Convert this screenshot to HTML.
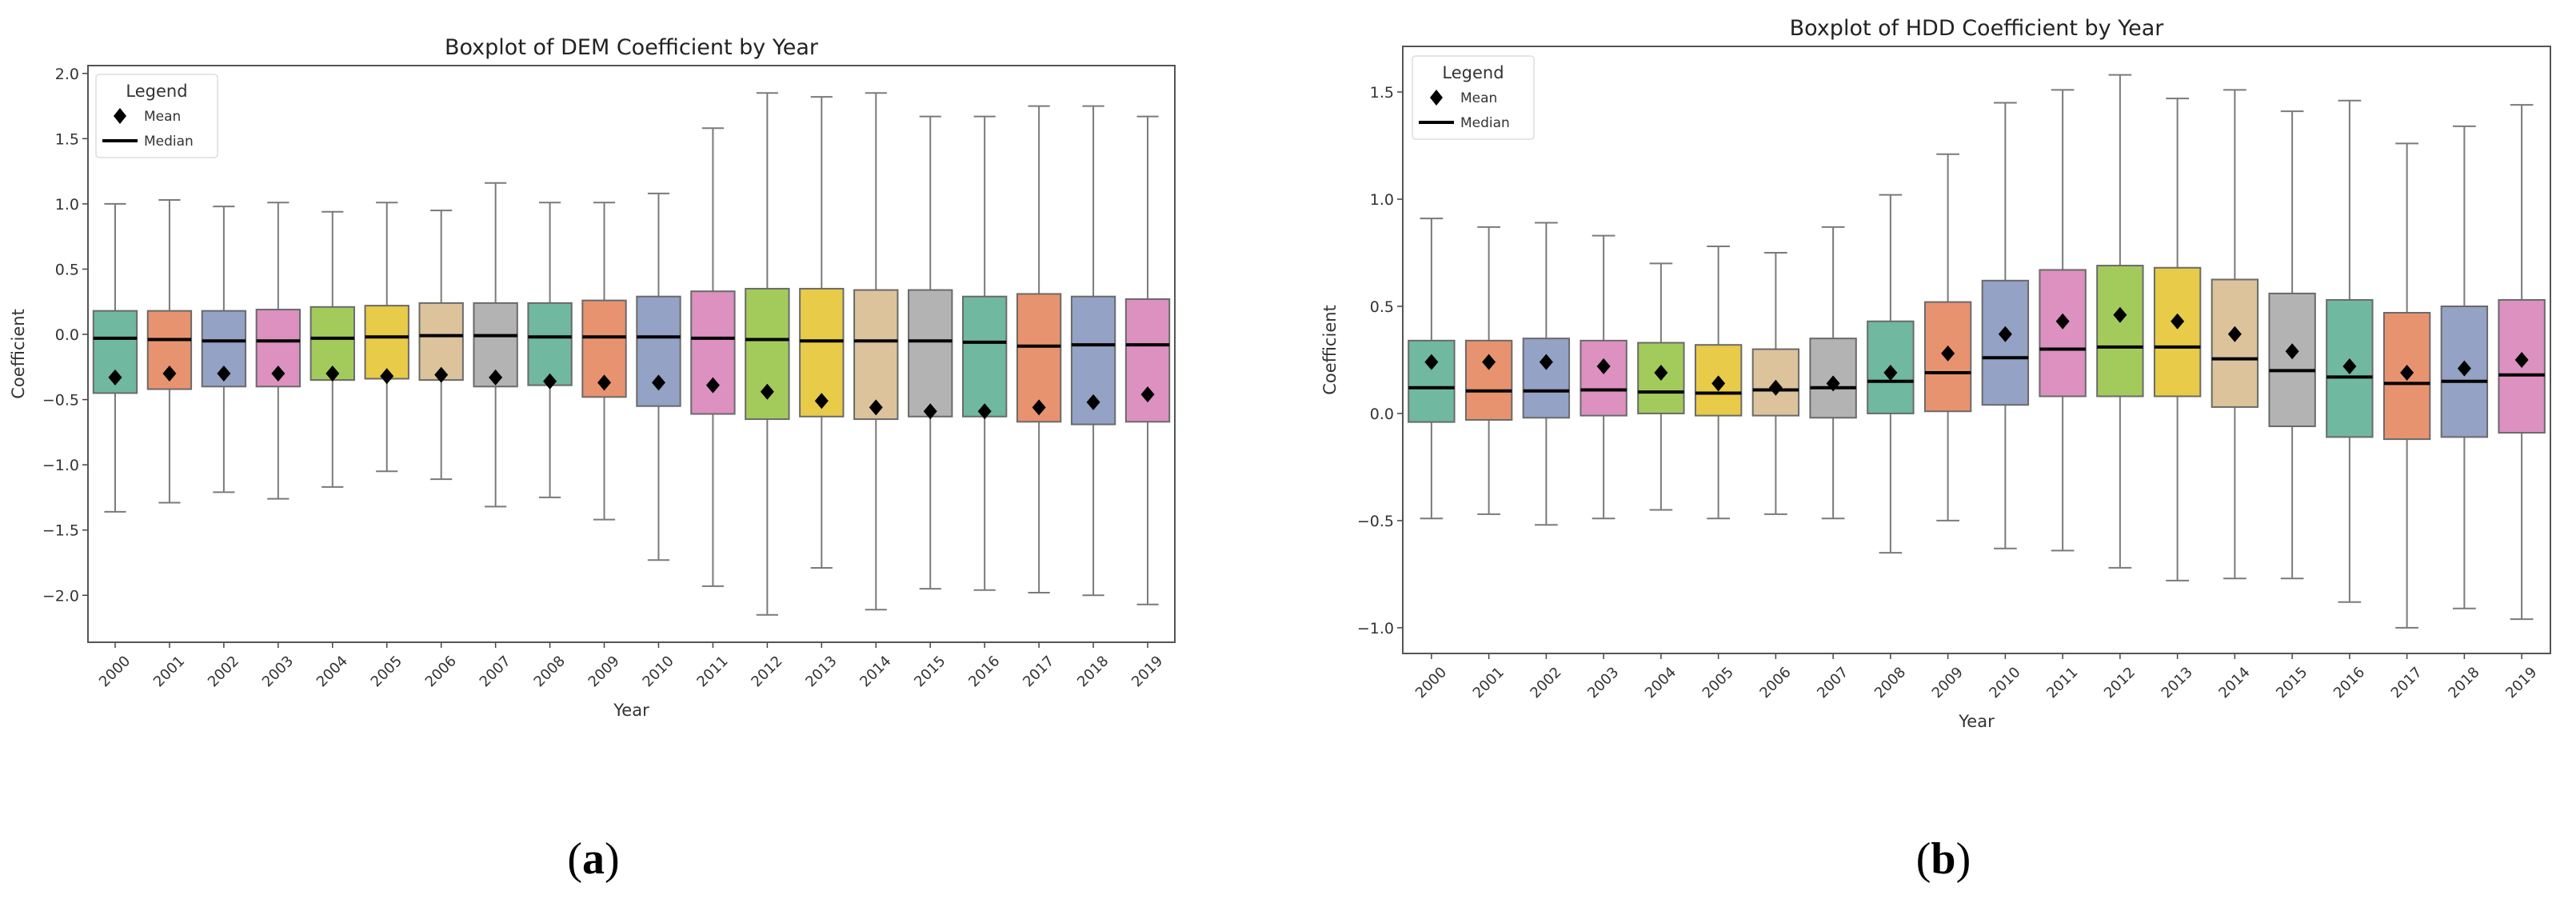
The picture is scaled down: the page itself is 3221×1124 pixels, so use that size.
<!DOCTYPE html>
<html><head><meta charset="utf-8">
<style>
html,body{margin:0;padding:0;background:#fff;}
svg{display:block;font-family:"DejaVu Sans","Liberation Sans",sans-serif;}
</style></head>
<body>
<svg id="fig" width="3221" height="1124" viewBox="0 0 3221 1124" xmlns="http://www.w3.org/2000/svg">
<rect width="3221" height="1124" fill="#fff"/>
<g id="chartA"></g>
<g id="chartB"></g>
<text x="742" y="1092" font-family="Liberation Serif, serif" font-size="56" text-anchor="middle">(<tspan font-weight="bold">a</tspan>)</text>
<text x="2430" y="1092" font-family="Liberation Serif, serif" font-size="56" text-anchor="middle">(<tspan font-weight="bold">b</tspan>)</text>
</svg>
<script>
const years = ["2000","2001","2002","2003","2004","2005","2006","2007","2008","2009","2010","2011","2012","2013","2014","2015","2016","2017","2018","2019"];
const colors = ["#70b8a0","#e8936f","#93a2c5","#dc91c0","#a3cb5c","#e8cb48","#dcc39b","#b3b3b3"];
// DEM coefficient
const demHigh = [1.00,1.03,0.98,1.01,0.94,1.01,0.95,1.16,1.01,1.01,1.08,1.58,1.85,1.82,1.85,1.67,1.67,1.75,1.75,1.67];
const demQ3 = [0.18,0.18,0.18,0.19,0.21,0.22,0.24,0.24,0.24,0.26,0.29,0.33,0.35,0.35,0.34,0.34,0.29,0.31,0.29,0.27];
const demMedian = [-0.03,-0.04,-0.05,-0.05,-0.03,-0.02,-0.01,-0.01,-0.02,-0.02,-0.02,-0.03,-0.04,-0.05,-0.05,-0.05,-0.06,-0.09,-0.08,-0.08];
const demMean = [-0.33,-0.30,-0.30,-0.30,-0.30,-0.32,-0.31,-0.33,-0.36,-0.37,-0.37,-0.39,-0.44,-0.51,-0.56,-0.59,-0.59,-0.56,-0.52,-0.46];
const demQ1 = [-0.45,-0.42,-0.40,-0.40,-0.35,-0.34,-0.35,-0.40,-0.39,-0.48,-0.55,-0.61,-0.65,-0.63,-0.65,-0.63,-0.63,-0.67,-0.69,-0.67];
const demLow = [-1.36,-1.29,-1.21,-1.26,-1.17,-1.05,-1.11,-1.32,-1.25,-1.42,-1.73,-1.93,-2.15,-1.79,-2.11,-1.95,-1.96,-1.98,-2.00,-2.07];
const demTicks = [-2.0,-1.5,-1.0,-0.5,0.0,0.5,1.0,1.5,2.0];
// HDD coefficient
const hddHigh = [0.91,0.87,0.89,0.83,0.70,0.78,0.75,0.87,1.02,1.21,1.45,1.51,1.58,1.47,1.51,1.41,1.46,1.26,1.34,1.44];
const hddQ3 = [0.34,0.34,0.35,0.34,0.33,0.32,0.30,0.35,0.43,0.52,0.62,0.67,0.69,0.68,0.625,0.56,0.53,0.47,0.50,0.53];
const hddMedian = [0.12,0.105,0.105,0.11,0.10,0.095,0.11,0.12,0.15,0.19,0.26,0.30,0.31,0.31,0.255,0.20,0.17,0.14,0.15,0.18];
const hddMean = [0.24,0.24,0.24,0.22,0.19,0.14,0.12,0.14,0.19,0.28,0.37,0.43,0.46,0.43,0.37,0.29,0.22,0.19,0.21,0.25];
const hddQ1 = [-0.04,-0.03,-0.02,-0.01,0.00,-0.01,-0.01,-0.02,0.00,0.01,0.04,0.08,0.08,0.08,0.03,-0.06,-0.11,-0.12,-0.11,-0.09];
const hddLow = [-0.49,-0.47,-0.52,-0.49,-0.45,-0.49,-0.47,-0.49,-0.65,-0.50,-0.63,-0.64,-0.72,-0.78,-0.77,-0.77,-0.88,-1.00,-0.91,-0.96];
const hddTicks = [-1.0,-0.5,0.0,0.5,1.0,1.5];

const NS = "http://www.w3.org/2000/svg";
function mk(parent, tag, attrs){
  const e = document.createElementNS(NS, tag);
  for (const k in attrs) e.setAttribute(k, attrs[k]);
  parent.appendChild(e);
  return e;
}

function drawChart(g, cfg){
  const L=cfg.left, R=cfg.right, T=cfg.top, B=cfg.bottom;
  const step = (R - L) / years.length;
  const xScale = i => L + step * (i + 0.5);
  const yScale = v => B - (v - cfg.ymin) / (cfg.ymax - cfg.ymin) * (B - T);
  const bw = step * 0.8, cw = bw * 0.5;

  const title = mk(g,'text',{x:(L+R)/2, y:T-14, 'font-size':27, 'text-anchor':'middle', fill:'#222'});
  title.textContent = cfg.title;
  
  

  cfg.ticks.forEach(t=>{
    const y = yScale(t);
    const tk = mk(g,'line',{x1:L-7,x2:L,y1:y,y2:y,stroke:'#444','stroke-width':1.5});
    
    
    const lb = mk(g,'text',{x:L-11,y:y+7,'font-size':19,'text-anchor':'end',fill:'#333'});
    lb.textContent = (t<0?'\u2212':'') + Math.abs(t).toFixed(1);
    
    
  });

  years.forEach((yr,i)=>{
    const x = xScale(i);
    const bg = mk(g,'g',{});
    
    
    const wc = '#7a7a7a';
    mk(bg,'line',{x1:x,x2:x,y1:yScale(cfg.high[i]),y2:yScale(cfg.q3[i]),stroke:wc,'stroke-width':2});
    mk(bg,'line',{x1:x,x2:x,y1:yScale(cfg.q1[i]),y2:yScale(cfg.low[i]),stroke:wc,'stroke-width':2});
    mk(bg,'line',{x1:x-cw/2,x2:x+cw/2,y1:yScale(cfg.high[i]),y2:yScale(cfg.high[i]),stroke:wc,'stroke-width':2});
    mk(bg,'line',{x1:x-cw/2,x2:x+cw/2,y1:yScale(cfg.low[i]),y2:yScale(cfg.low[i]),stroke:wc,'stroke-width':2});
    mk(bg,'rect',{x:x-bw/2,y:yScale(cfg.q3[i]),width:bw,height:yScale(cfg.q1[i])-yScale(cfg.q3[i]),fill:colors[i%colors.length],stroke:'#6a6a6a','stroke-width':2});
    const med = mk(bg,'line',{x1:x-bw/2,x2:x+bw/2,y1:yScale(cfg.median[i]),y2:yScale(cfg.median[i]),stroke:'#000','stroke-width':4});
    
    
    const my = yScale(cfg.mean[i]), d=10;
    const dm = mk(bg,'polygon',{points:`${x},${my-d} ${x+d*0.85},${my} ${x},${my+d} ${x-d*0.85},${my}`,fill:'#000'});
    
    
    const tk = mk(g,'line',{x1:x,x2:x,y1:B,y2:B+7,stroke:'#444','stroke-width':1.5});
    
    
    const ly = B+37;
    const lb = mk(g,'text',{x:x,y:ly,'font-size':18,'text-anchor':'middle','dominant-baseline':'middle',fill:'#333',transform:`rotate(-45 ${x} ${ly})`});
    lb.textContent = yr;
    
    
  });

  const frame = mk(g,'rect',{x:L,y:T,width:R-L,height:B-T,fill:'none',stroke:'#555','stroke-width':2});
  
  

  const xl = mk(g,'text',{x:(L+R)/2,y:B+92,'font-size':21,'text-anchor':'middle',fill:'#333'});
  xl.textContent = 'Year';
  
  
  const yc = (T+B)/2;
  const yl = mk(g,'text',{x:cfg.ylabX,y:yc,'font-size':21,'text-anchor':'middle',fill:'#333',transform:`rotate(-90 ${cfg.ylabX} ${yc})`});
  yl.textContent = 'Coefficient';
  
  

  const lg = mk(g,'g',{});
  
  
  const lx=cfg.legX, ly0=cfg.legY;
  mk(lg,'rect',{x:lx,y:ly0,width:152,height:104,rx:4,fill:'#fff',stroke:'#ddd','stroke-width':1.5});
  const lt = mk(lg,'text',{x:lx+76,y:ly0+28,'font-size':21,'text-anchor':'middle',fill:'#333'});
  lt.textContent='Legend';
  
  
  const dx=lx+30, dy=ly0+52;
  const ld = mk(lg,'polygon',{points:`${dx},${dy-10} ${dx+8},${dy} ${dx},${dy+10} ${dx-8},${dy}`,fill:'#000'});
  
  
  const m1 = mk(lg,'text',{x:lx+60,y:dy+6,'font-size':17,fill:'#333'});
  m1.textContent='Mean';
  
  
  const my2 = ly0+83;
  const ll = mk(lg,'line',{x1:lx+8,x2:lx+52,y1:my2,y2:my2,stroke:'#000','stroke-width':4});
  
  
  const m2 = mk(lg,'text',{x:lx+60,y:my2+6,'font-size':17,fill:'#333'});
  m2.textContent='Median';
  
  
}

drawChart(document.getElementById('chartA'), {
  left:110, right:1469, top:82, bottom:803, ymin:-2.36, ymax:2.06,
  title:'Boxplot of DEM Coefficient by Year', ticks:demTicks, ylabX:30, legX:120, legY:93,
  high:demHigh, q3:demQ3, median:demMedian, mean:demMean, q1:demQ1, low:demLow
});
drawChart(document.getElementById('chartB'), {
  left:1754, right:3189, top:58, bottom:817, ymin:-1.12, ymax:1.713,
  title:'Boxplot of HDD Coefficient by Year', ticks:hddTicks, ylabX:1670, legX:1766, legY:70,
  high:hddHigh, q3:hddQ3, median:hddMedian, mean:hddMean, q1:hddQ1, low:hddLow
});
</script>
</body></html>
